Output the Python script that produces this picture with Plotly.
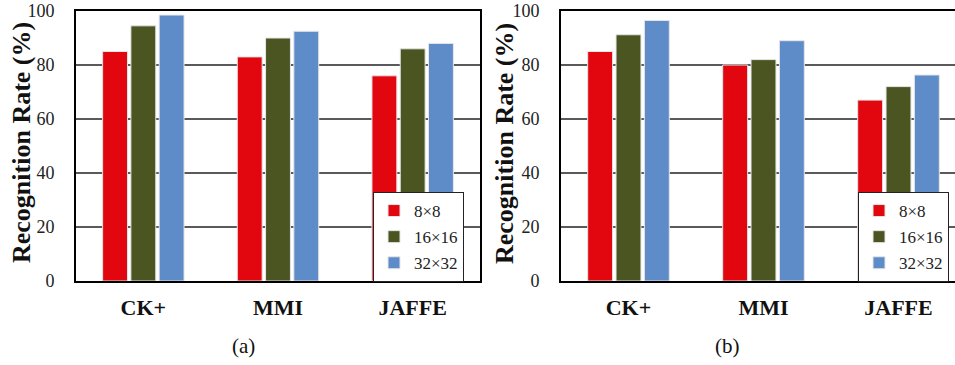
import plotly.graph_objects as go

categories = ["CK+", "MMI", "JAFFE"]
series_names = ["8×8", "16×16", "32×32"]
colors = ["#E2070F", "#4A5522", "#5E8CC8"]

# panel (a)
a_8 = [85, 83, 76]
a_16 = [94.5, 90, 86]
a_32 = [98.5, 92.5, 88]
# panel (b)
b_8 = [85, 80, 67]
b_16 = [91.2, 82, 72]
b_32 = [96.5, 89, 76.3]

yticks = [0, 20, 40, 60, 80, 100]

W, H = 955, 365
FONT = "Liberation Serif, serif"

fig = go.Figure()
for i, (vals, name, col) in enumerate(zip([a_8, a_16, a_32], series_names, colors)):
    fig.add_trace(go.Bar(x=categories, y=vals, name=name, legendgroup=f"a{i}",
                         marker=dict(color=col, line=dict(color="#e6e6e6", width=1)),
                         xaxis="x", yaxis="y", legend="legend"))
for i, (vals, name, col) in enumerate(zip([b_8, b_16, b_32], series_names, colors)):
    fig.add_trace(go.Bar(x=categories, y=vals, name=name, legendgroup=f"b{i}",
                         marker=dict(color=col, line=dict(color="#e6e6e6", width=1)),
                         xaxis="x2", yaxis="y2", legend="legend2"))

ydom = [(H - 281) / H, (H - 11) / H]

xcommon = dict(showline=True, linecolor="black", linewidth=2, mirror=True, showgrid=False,
               tickfont=dict(family=FONT, size=22, color="#111", weight="bold"), ticks="",
               ticklabelstandoff=6, type="category", fixedrange=True, automargin=False)
ycommon = dict(range=[0, 100], tickvals=yticks, showgrid=True, gridcolor="#5a5a5a", gridwidth=1.5,
               zeroline=False, showline=True, linecolor="black", linewidth=2, automargin=False,
               tickfont=dict(family=FONT, size=18, color="#222"), ticks="", ticklabelstandoff=16)

legcommon = dict(bgcolor="white", bordercolor="#222", borderwidth=1,
                 font=dict(family=FONT, size=17, color="#222"), xanchor="right", yanchor="top",
                 y=1 - 192 / H, itemwidth=30, tracegroupgap=1)

def ann(text, x, y, size, angle=0):
    return dict(text=text, textangle=angle, x=x / W, y=(H - y) / H, xref="paper", yref="paper",
                xanchor="center", yanchor="middle", showarrow=False,
                font=dict(family=FONT, size=size, color="#111"))

fig.update_layout(
    width=W, height=H, margin=dict(l=0, r=0, t=0, b=0, autoexpand=False),
    font=dict(family=FONT),
    paper_bgcolor="white", plot_bgcolor="white",
    barmode="group", bargap=0.37, bargroupgap=0.12,
    xaxis=dict(domain=[76 / W, 480 / W], range=[-0.5, 2.5], anchor="y", **xcommon),
    yaxis=dict(domain=ydom, anchor="x", mirror=True, **ycommon),
    xaxis2=dict(domain=[561 / W, 1.0], range=[-0.5, -0.5 + 394 / 135], anchor="y2", **xcommon),
    yaxis2=dict(domain=ydom, anchor="x2", mirror=False, **ycommon),
    legend=dict(x=464 / W, **legcommon),
    legend2=dict(x=949 / W, **legcommon),
    showlegend=True,
    annotations=[
        ann("<b>Recognition Rate (%)</b>", 22, 143, 26, -90),
        ann("<b>Recognition Rate (%)</b>", 505, 143, 26, -90),
        ann("(a)", 243, 346, 21),
        ann("(b)", 727, 346, 21),
    ],
)

fig.write_html("out.html", config={"displayModeBar": False},
               post_script="document.body.style.margin='0';document.body.style.overflow='hidden';")
